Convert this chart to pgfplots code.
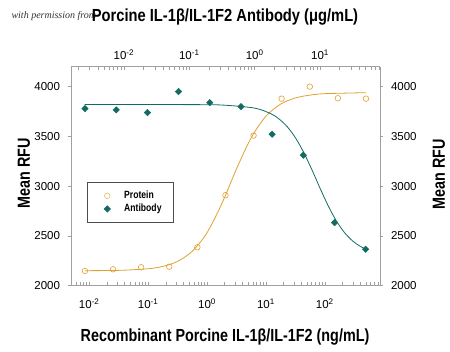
\documentclass[border=0pt]{standalone}
\usepackage{pgfplots}
\pgfplotsset{compat=1.18}
\usepackage{fontspec}
\setmainfont{Liberation Sans}
\newfontfamily\narrow[FakeStretch=0.82]{Liberation Sans}
\newfontfamily\wider[FakeStretch=0.84]{Liberation Sans}
\newfontfamily\wm{Liberation Serif}
\definecolor{protc}{RGB}{224,160,48}
\definecolor{abc}{RGB}{18,107,98}
\definecolor{axgray}{RGB}{160,160,160}
\begin{document}
\begin{tikzpicture}
\useasboundingbox (0,0) rectangle (450pt,351pt);
\node[anchor=west, font=\wm\itshape\fontsize{10}{11}\selectfont, text=black!80] at (8pt,335pt) {with permission from};
\begin{axis}[
  at={(71pt,65.3pt)}, anchor=south west, scale only axis,
  width=309pt, height=219pt,
  xmode=log, xmin=0.00491, xmax=865, ymin=2000, ymax=4200,
  axis x line*=bottom, axis y line*=left,
  axis line style={axgray, line width=0.8pt},
  tick style={axgray, line width=0.6pt},
  tick align=outside, major tick length=3.5pt, minor tick length=3.5pt,
  xtick style={yshift=3.5pt},
  xtick={0.01,0.1,1,10,100},
  xticklabels={10\textsuperscript{-2},10\textsuperscript{-1},10\textsuperscript{0},10\textsuperscript{1},10\textsuperscript{2}},
  minor xtick={0.005,0.006,0.007,0.008,0.009,0.02,0.03,0.04,0.05,0.06,0.07,0.08,0.09,0.2,0.3,0.4,0.5,0.6,0.7,0.8,0.9,2,3,4,5,6,7,8,9,20,30,40,50,60,70,80,90,200,300,400,500,600,700,800},
  ytick={2000,2500,3000,3500,4000},
  yticklabels={2000,2500,3000,3500,4000},
  ticklabel style={font=\fontsize{11.5}{13}\selectfont, text=black},
  xticklabel style={yshift=-6pt},
  yticklabel style={xshift=-4pt},
  clip=false
]
\addplot[protc, line width=0.8pt, smooth] coordinates {
(0.00851,2151) (0.0316,2154) (0.1,2170) (0.178,2194) (0.316,2244) (0.562,2346) (1,2532) (1.778,2822) (3.162,3172) (5.623,3486) (10,3702) (17.78,3824) (31.62,3886) (56.23,3915) (100,3929) (501,3939)
};
\addplot[only marks, mark=o, mark size=2.8pt, protc, line width=0.6pt] coordinates {
(0.00847,2148) (0.0254,2165) (0.0762,2185) (0.229,2191) (0.686,2386) (2.06,2909) (6.17,3508) (18.5,3879) (55.6,4000) (166.7,3883) (500,3879)
};
\end{axis}
\begin{axis}[
  at={(71pt,65.3pt)}, anchor=south west, scale only axis,
  width=309pt, height=219pt,
  xmode=log, xmin=0.00155, xmax=82.8, ymin=2000, ymax=4200,
  axis x line*=top, axis y line*=right,
  axis line style={axgray, line width=0.8pt},
  tick style={axgray, line width=0.6pt},
  tick align=outside, major tick length=3.5pt, minor tick length=3.5pt,
  xtick style={yshift=-3.5pt},
  xtick={0.01,0.1,1,10},
  xticklabels={10\textsuperscript{-2},10\textsuperscript{-1},10\textsuperscript{0},10\textsuperscript{1}},
  minor xtick={0.002,0.003,0.004,0.005,0.006,0.007,0.008,0.009,0.02,0.03,0.04,0.05,0.06,0.07,0.08,0.09,0.2,0.3,0.4,0.5,0.6,0.7,0.8,0.9,2,3,4,5,6,7,8,9,20,30,40,50,60,70,80},
  ytick={2000,2500,3000,3500,4000},
  yticklabels={2000,2500,3000,3500,4000},
  ticklabel style={font=\fontsize{11.5}{13}\selectfont, text=black},
  yticklabel style={xshift=4pt},
  clip=false,
  legend cell align=left,
  legend image code/.code={\path[draw=none, fill=none] (0cm,0cm) rectangle (0.7cm,0.01cm); \draw[#1] plot coordinates {(0.35cm,0cm)};},
  legend style={at={(0.052,0.4735)}, anchor=north west, draw=black!70, line width=0.5pt,
    font=\narrow\bfseries\fontsize{10.5}{12}\selectfont, inner xsep=10pt, inner ysep=7pt, row sep=0pt}
]
\addlegendimage{only marks, mark=o, mark size=2.8pt, protc!70, line width=0.6pt}
\addlegendentry{\hspace*{5pt}Protein}
\addplot[abc, line width=0.8pt, smooth, forget plot] coordinates {
(0.00251,3820) (0.01,3820) (0.1,3819) (0.316,3815) (1,3784) (1.778,3727) (2.371,3674) (3.162,3596) (4.217,3485) (5.623,3340) (7.499,3167) (10,2980) (13.34,2803) (17.78,2651) (23.71,2533) (31.62,2449) (39.81,2402) (50.12,2367)
};
\addplot[only marks, mark=square*, mark size=2.3pt, mark options={rotate=45}, abc] coordinates {
(0.00254,3779) (0.00762,3766) (0.0229,3739) (0.0686,3950) (0.206,3839) (0.617,3799) (1.85,3522) (5.56,3311) (16.7,2633) (50,2366)
};
\addlegendentry{\hspace*{5pt}Antibody}
\end{axis}
\node[font=\narrow\bfseries\fontsize{17.5}{20}\selectfont] at (225pt,14pt) {Recombinant Porcine IL-1β/IL-1F2 (ng/mL)};
\node[font=\wider\bfseries\fontsize{17.5}{20}\selectfont] at (225pt,334pt) {Porcine IL-1β/IL-1F2 Antibody (μg/mL)};
\node[rotate=90, font=\narrow\bfseries\fontsize{17.5}{20}\selectfont] at (24pt,178pt) {Mean RFU};
\node[rotate=90, font=\narrow\bfseries\fontsize{17.5}{20}\selectfont] at (439pt,177pt) {Mean RFU};
\end{tikzpicture}
\end{document}
